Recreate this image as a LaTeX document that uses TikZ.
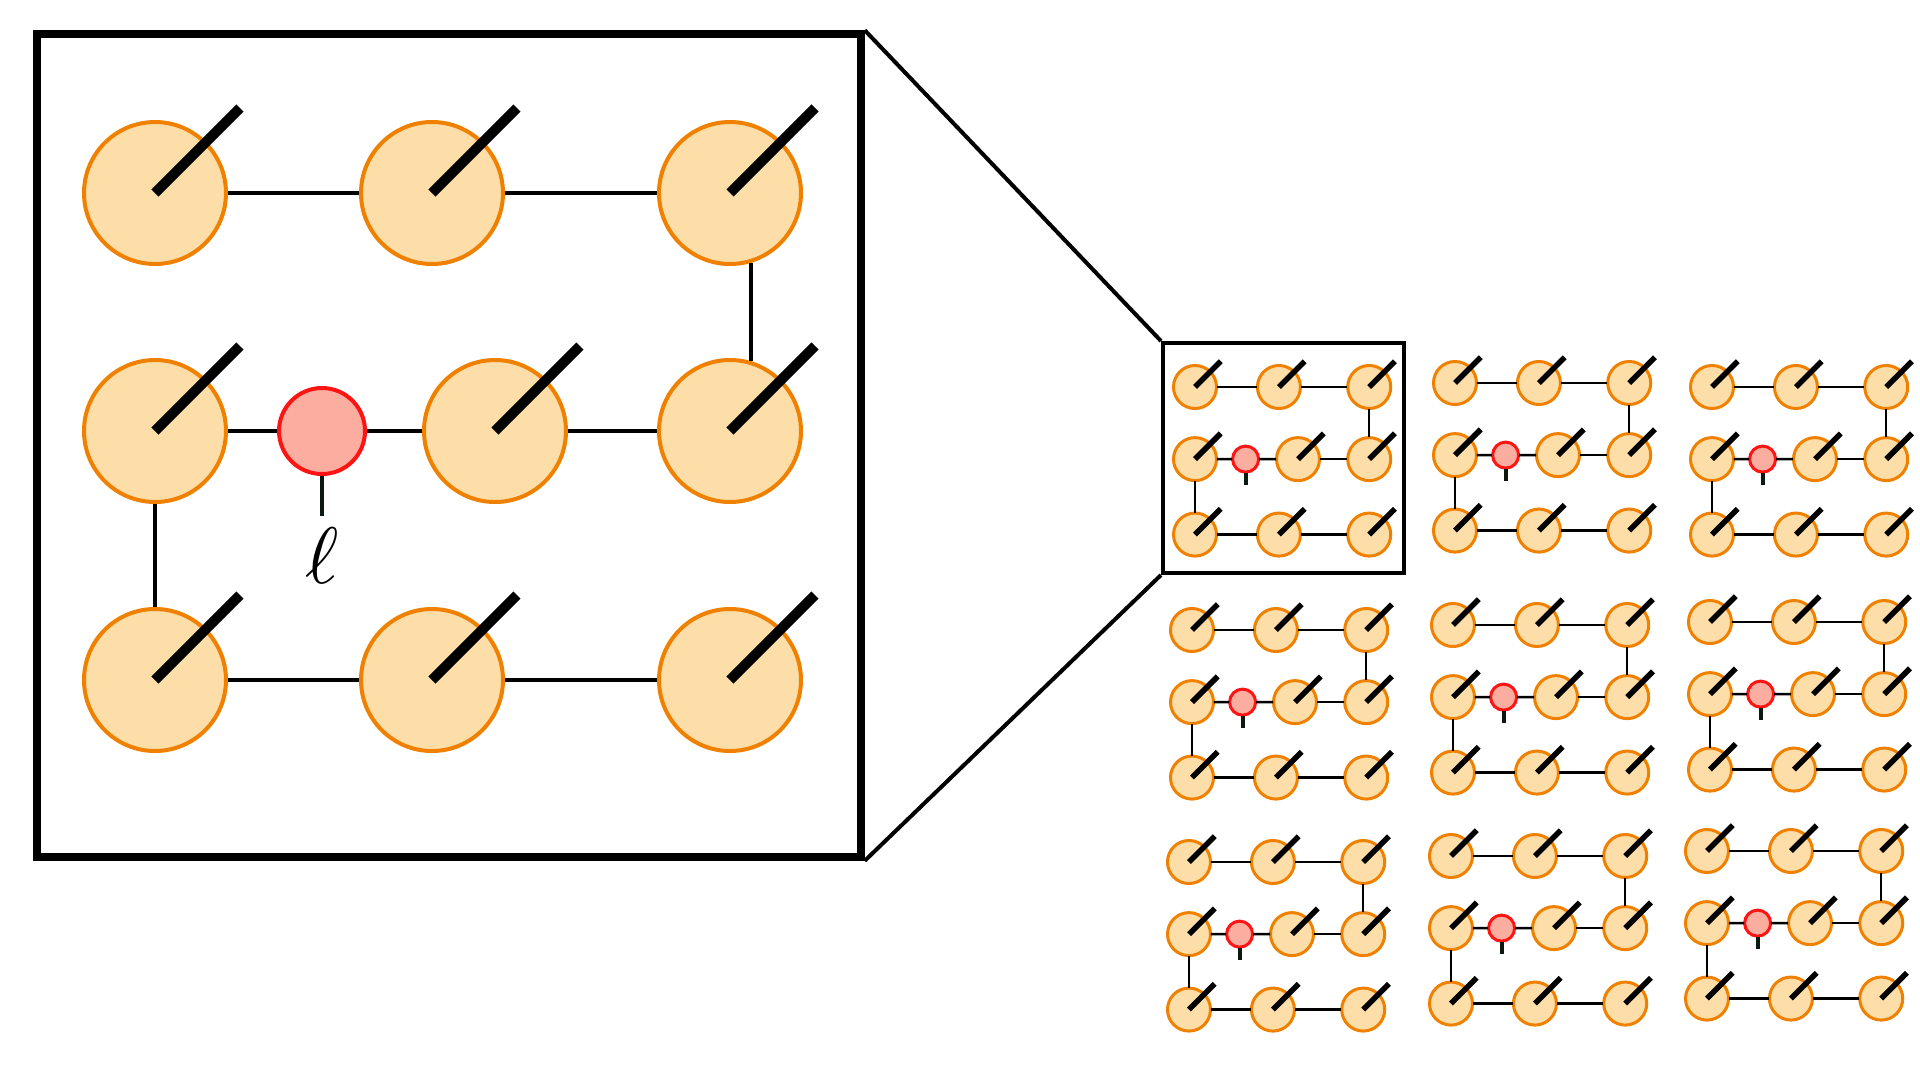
\documentclass[tikz,border=0pt]{standalone}
\usepackage{graphicx}
\usetikzlibrary{positioning}

\definecolor{sitefill}{RGB}{253,222,168}
\definecolor{siteedge}{RGB}{240,128,0}
\definecolor{defectfill}{RGB}{251,174,160}
\definecolor{defectedge}{RGB}{255,20,20}
\definecolor{stubcol}{RGB}{10,26,16}

\tikzset{
  site/.style={circle, draw=siteedge, fill=sitefill, line width=4pt, minimum size=142pt, inner sep=0pt},
  defect/.style={circle, draw=defectedge, fill=defectfill, line width=4pt, minimum size=86pt, inner sep=0pt},
  bond/.style={line width=4pt},
  spin/.style={line width=10pt},
  stub/.style={line width=4pt, draw=stubcol},
  frame/.style={draw, inner sep=0pt},
  mini/.style={scale=0.303, transform shape,
    site/.append style={line width=3pt},
    defect/.append style={line width=3pt},
    bond/.style={line width=2.5pt},
    spin/.style={line width=5.5pt}},
  % #1 = angle where the right vertical bond leaves the corner site
  pics/tnet/.style={code={
    \node[site] (-a1) at (0,0) {};
    \node[site] (-a2) at (277,0) {};
    \node[site] (-a3) at (575,0) {};
    \node[site] (-b1) at (0,238) {};
    \node[defect] (-r) at (167,238) {};
    \node[site] (-b2) at (340,238) {};
    \node[site] (-b3) at (575,238) {};
    \node[site] (-c1) at (0,487) {};
    \node[site] (-c2) at (277,487) {};
    \node[site] (-c3) at (575,487) {};
    \draw[bond] (-a1) -- (-a2);
    \draw[bond] (-a2) -- (-a3);
    \draw[bond] (-a3.-#1) -- (-b3.#1);
    \draw[bond] (-b3) -- (-b2);
    \draw[bond] (-b2) -- (-r);
    \draw[bond] (-r) -- (-b1);
    \draw[bond] (-b1) -- (-c1);
    \draw[bond] (-c1) -- (-c2);
    \draw[bond] (-c2) -- (-c3);
    \draw[stub] (-r.south) -- ++(0,40) coordinate (-foot);
    \foreach \s in {a1,a2,a3,b1,b2,b3,c1,c2,c3}{
      \draw[spin] (-\s.center) -- ++(85,-85);
    }
  }}
}

\begin{document}
\begin{tikzpicture}[x=1pt,y=-1pt]
  \useasboundingbox (0,0) rectangle (1920,1080);

  \node[frame, line width=7.5pt, minimum width=824pt, minimum height=823pt] (zoom) at (449,445.5) {};
  \pic (big) at (155,193) {tnet=73};
  \node[below=12pt of big-foot, inner sep=0pt] (ell) {\scalebox{8}{$\ell$}};

  \foreach \x/\y [count=\i] in {1195/387,1455/383,1712/387,1192/630,1453/625,1710/622,1189/862,1451/856,1707/851}{
    \pic[mini] (m\i) at (\x,\y) {tnet=90};
  }

  \node[frame, line width=4pt, minimum width=241pt, minimum height=230pt] (inset) at (1283.5,458) {};
  \draw[line width=4pt] (zoom.north east) -- (inset.north west);
  \draw[line width=4pt] (zoom.south east) -- (inset.south west);
\end{tikzpicture}
\end{document}
